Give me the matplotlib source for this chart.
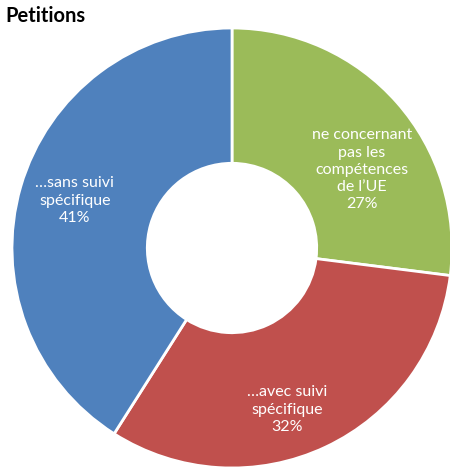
import matplotlib
matplotlib.use("Agg")
import matplotlib.pyplot as plt

plt.rcParams['font.family'] = ['Lato', 'DejaVu Sans']

categories = ["ne concernant\npas les\ncompétences\nde l\u2019UE",
              "\u2026avec suivi\nspécifique",
              "\u2026sans suivi\nspécifique"]
shares = [27, 32, 41]
colors = ['#9BBB59', '#C0504D', '#4F81BD']
label_pos = [(0.59, 0.355), (0.25, -0.735), (-0.715, 0.215)]

fig = plt.figure(figsize=(4.5, 4.71), dpi=100)
ax = fig.add_axes([12 / 450, 3 / 471, 440 / 450, 440 / 471])

ax.pie(shares, colors=colors, startangle=90, counterclock=False, radius=1.0,
       wedgeprops=dict(width=0.615, edgecolor='white', linewidth=2))

for cat, val, (x, y) in zip(categories, shares, label_pos):
    ax.text(x, y, f"{cat}\n{val}%", ha='center', va='center', color='white',
            fontsize=11.5, linespacing=1.3)

ax.set_xlim(-1, 1)
ax.set_ylim(-1, 1)
ax.set_aspect('equal')
ax.axis('off')

fig.text(5 / 450, 1 - 16 / 471, "Petitions", fontsize=14.5, fontweight='bold',
         ha='left', va='center')

fig.savefig("out.png", dpi=100)
